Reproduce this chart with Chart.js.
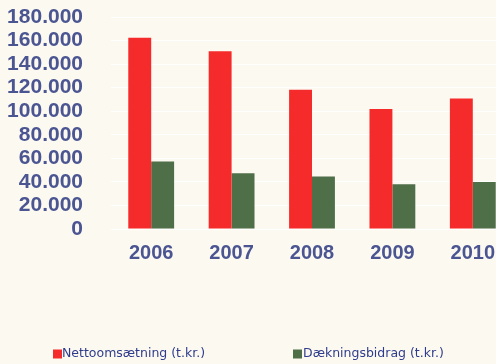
<!DOCTYPE html>
<html>
<head>
<meta charset="utf-8">
<script src="https://cdn.jsdelivr.net/npm/chart.js@4.4.0/dist/chart.umd.min.js"></script>
<style>
  html, body { margin: 0; padding: 0; width: 496px; height: 364px; overflow: hidden; background: #fcf9f1; }
  #wrap { width: 520px; height: 364px; }
</style>
</head>
<body>
<div id="wrap"><canvas id="c" width="520" height="364"></canvas></div>
<script>
const categories = ['2006', '2007', '2008', '2009', '2010'];
const seriesNames = ['Nettoomsætning (t.kr.)', 'Dækningsbidrag (t.kr.)'];
const nettoomsaetning = [162300, 150900, 118300, 101900, 110900];
const daekningsbidrag = [57300, 47400, 44500, 38000, 40000];
const yTickLabels = ['0', '20.000', '40.000', '60.000', '80.000', '100.000', '120.000', '140.000', '160.000', '180.000'];
const colors = ['#f52b2b', '#4f6f49'];

const legendPlugin = {
  id: 'customLegend',
  afterDraw(chart) {
    const ctx = chart.ctx;
    const xs = [[53, 62], [293, 303]];
    const yc = 354;
    ctx.save();
    ctx.font = '12.5px "DejaVu Sans", Verdana, sans-serif';
    ctx.textBaseline = 'middle';
    ctx.textAlign = 'left';
    chart.data.datasets.forEach((ds, i) => {
      ctx.fillStyle = ds.backgroundColor;
      ctx.fillRect(xs[i][0], yc - 4.5, 9, 9);
      ctx.fillStyle = '#2f3c8c';
      ctx.fillText(ds.label, xs[i][1], yc);
    });
    ctx.restore();
  }
};

new Chart(document.getElementById('c'), {
  type: 'bar',
  data: {
    labels: categories,
    datasets: [
      { label: seriesNames[0], data: nettoomsaetning, backgroundColor: colors[0] },
      { label: seriesNames[1], data: daekningsbidrag, backgroundColor: colors[1] }
    ]
  },
  options: {
    responsive: false,
    animation: false,
    layout: { padding: { top: 17, right: 7, bottom: 99, left: 0 } },
    datasets: { bar: { categoryPercentage: 0.57, barPercentage: 1.0 } },
    plugins: { legend: { display: false }, tooltip: { enabled: false } },
    scales: {
      x: {
        grid: { display: false, drawTicks: false },
        border: { display: false },
        ticks: {
          padding: 12,
          color: '#4a5591',
          font: { family: '"Liberation Sans", Arial, sans-serif', size: 20, weight: 'bold' }
        },
        afterFit(s) { s.height = 36; s.paddingLeft = 0; s.paddingRight = 0; }
      },
      y: {
        min: 0, max: 180000,
        grid: { color: 'rgba(255,255,255,0.9)', drawTicks: false },
        border: { display: false },
        ticks: {
          stepSize: 20000,
          autoSkip: false,
          padding: 28,
          color: '#4a5591',
          font: { family: '"Liberation Sans", Arial, sans-serif', size: 21, weight: 'bold' },
          callback: (v) => yTickLabels[Math.round(v / 20000)]
        },
        afterFit(s) { s.width = 111; s.paddingTop = 0; s.paddingBottom = 0; }
      }
    }
  },
  plugins: [legendPlugin]
});
</script>
</body>
</html>
